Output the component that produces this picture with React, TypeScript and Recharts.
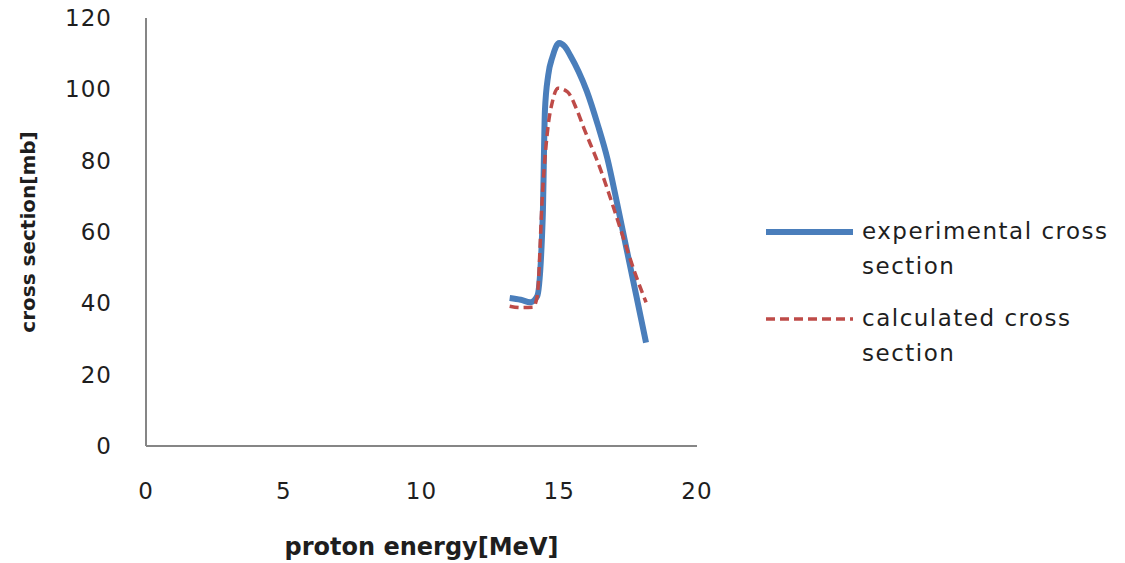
import { LineChart, Line, XAxis, YAxis } from "recharts"

const xTicks = [0, 5, 10, 15, 20]
const yTicks = [0, 20, 40, 60, 80, 100, 120]

const expEnergy = [13.2, 13.6, 13.95, 14.2, 14.4, 14.48, 14.6, 14.75, 15.0, 15.2, 15.4, 15.7, 16.0, 16.4, 16.75, 17.1, 17.45, 17.8, 18.15]
const expSigma = [41.5, 41, 40.3, 42, 64, 94, 104, 109, 113, 112, 109.5, 105, 99.5, 90, 80.5, 68, 55, 42, 29]

// calculated cross section
const calcEnergy = [13.2, 13.6, 14.05, 14.2, 14.4, 14.6, 14.75, 14.95, 15.3, 15.6, 15.9, 16.5, 16.9, 17.3, 17.75, 18.15]
const calcSigma = [39.2, 38.8, 38.9, 42, 72, 90, 96.5, 100.3, 99.3, 95, 89, 77.5, 68.5, 59, 48.5, 40.3]

const expData = expEnergy.map((x, i) => ({ x, y: expSigma[i] }))
const calcData = calcEnergy.map((x, i) => ({ x, y: calcSigma[i] }))

const font = "'DejaVu Sans', Verdana, sans-serif"
const ink = "#1e1e1e"
const blue = "#4a7ebb"
const red = "#be4b48"

export default function App() {
  return (
    <div style={{ position: "absolute", left: 0, top: 0, width: 1125, height: 563, background: "#fff", fontFamily: font }}>
      <LineChart width={1125} height={563} margin={{ top: 18, right: 428, left: 0, bottom: 0 }}>
        <XAxis
          type="number"
          dataKey="x"
          domain={[0, 20]}
          ticks={xTicks}
          allowDuplicatedCategory={false}
          height={117}
          tickLine={false}
          tickSize={0}
          tickMargin={37}
          axisLine={{ stroke: "#868686", strokeWidth: 2 }}
          tick={{ fontSize: 23, fill: ink, fontFamily: font, letterSpacing: 1 }}
          label={(props: any) => {
            const vb = props.viewBox
            return (
              <text x={vb.x + vb.width / 2} y={555} textAnchor="middle" fontSize={24} fontWeight="bold" fill={ink} fontFamily={font}>
                proton energy[MeV]
              </text>
            )
          }}
        />
        <YAxis
          type="number"
          dataKey="y"
          domain={[0, 120]}
          ticks={yTicks}
          width={146}
          tickLine={false}
          tickSize={0}
          tickMargin={34}
          axisLine={{ stroke: "#868686", strokeWidth: 2 }}
          tick={{ fontSize: 23, fill: ink, fontFamily: font, letterSpacing: 1 }}
          label={(props: any) => {
            const vb = props.viewBox
            const cy = vb.y + vb.height / 2
            return (
              <text x={28} y={cy} transform={`rotate(-90 28 ${cy})`} textAnchor="middle" dominantBaseline="central" fontSize={20} fontWeight="bold" fill={ink} fontFamily={font}>
                cross section[mb]
              </text>
            )
          }}
        />
        <Line data={expData} dataKey="y" type="monotone" stroke={blue} strokeWidth={6} dot={false} isAnimationActive={false} />
        <Line data={calcData} dataKey="y" type="monotone" stroke={red} strokeWidth={3.5} strokeDasharray="9 5" dot={false} isAnimationActive={false} />
      </LineChart>
      <div style={{ position: "absolute", left: 766, top: 214, fontSize: 23, color: ink, letterSpacing: 1.5, lineHeight: "35px" }}>
        <div style={{ display: "flex", alignItems: "flex-start" }}>
          <svg width={96} height={35}><line x1={0} y1={18} x2={87} y2={18} stroke={blue} strokeWidth={6} /></svg>
          <div>experimental cross<br />section</div>
        </div>
        <div style={{ display: "flex", alignItems: "flex-start", marginTop: 17 }}>
          <svg width={96} height={35}><line x1={0} y1={18} x2={87} y2={18} stroke={red} strokeWidth={3.5} strokeDasharray="9 5" /></svg>
          <div>calculated cross<br />section</div>
        </div>
      </div>
    </div>
  )
}
